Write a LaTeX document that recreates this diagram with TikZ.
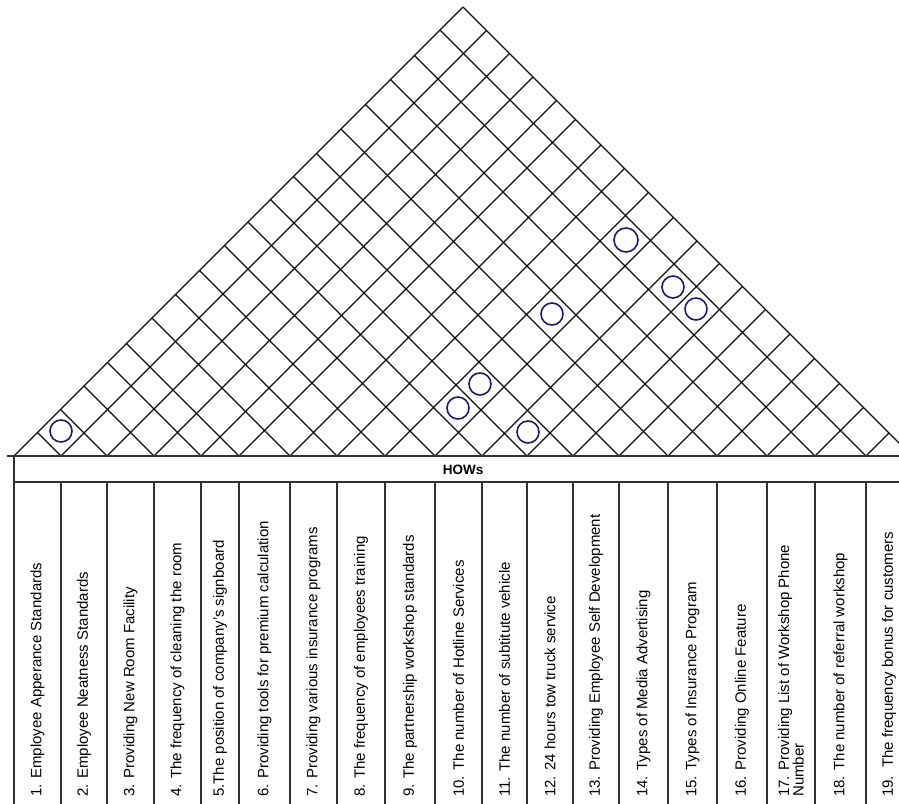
\documentclass[tikz,border=0pt]{standalone}
\usepackage{fontspec}
\setmainfont{Liberation Sans}
\definecolor{roofgray}{RGB}{15,15,15}
\definecolor{tablegray}{RGB}{50,50,50}
\definecolor{ringblue}{RGB}{28,28,112}
\tikzset{
  roofline/.style={draw=roofgray, line width=1.3pt},
  tabline/.style={draw=tablegray, line width=1.3pt},
  howtext/.style={
    rotate=90,
    anchor=west,
    inner sep=0pt,
    align=left,
    font=\fontsize{15}{14.5}\selectfont
  },
  headtext/.style={inner sep=0pt, font=\fontsize{13.5}{14}\selectfont\bfseries},
  ring/.style={circle, draw=ringblue, line width=1.6pt, minimum size=22pt, inner sep=0pt}
}

\begin{document}
\begin{tikzpicture}[x=1pt,y=-1pt]
    \clip (0,0) rectangle (899,803);
    % roof grid
    \foreach \xk in {14,61,107,154,201,239,290,337,385,435,482,527,573,619,668,717,767,815,866,912} {
      \draw[roofline] (\xk,456) -- ({(912+\xk)/2},{456-(912-\xk)/2});
      \draw[roofline] (\xk,456) -- ({(\xk+14)/2},{456-(\xk-14)/2});
    }
    \node[ring] (r1) at (61,431) {};
    \node[ring] (r2) at (528,432) {};
    \node[ring] (r3) at (458,408) {};
    \node[ring] (r4) at (480,384) {};
    \node[ring] (r5) at (552,314) {};
    \node[ring] (r6) at (696,309) {};
    \node[ring] (r7) at (673,287) {};
    \node[ring, minimum size=24pt] (r8) at (626,240) {};
    % table
    \draw[tabline] (7,456) -- (912,456);
    \draw[tabline] (14,482) -- (912,482);
    \draw[tabline] (14,456) -- (14,810);
    \foreach \xk in {61,107,154,201,239,290,337,385,435,482,527,573,619,668,717,767,815,866,912}
      \draw[tabline] (\xk,482) -- (\xk,810);
    \node[headtext] (hows) at (463,470) {HOWs};
    \node[howtext] (h1) at (37.5,797) {1. Employee Apperance Standards};
    \node[howtext] (h2) at (84,797) {2. Employee Neatness Standards};
    \node[howtext] (h3) at (130.5,797) {3. Providing New Room Facility};
    \node[howtext] (h4) at (177.5,797) {4. The frequency of cleaning the room};
    \node[howtext] (h5) at (220,797) {5.The position of company's signboard};
    \node[howtext] (h6) at (264.5,797) {6. Providing tools for premium calculation};
    \node[howtext] (h7) at (313.5,797) {7. Providing various insurance programs};
    \node[howtext] (h8) at (361,797) {8. The frequency of employees training};
    \node[howtext] (h9) at (410,797) {9. The partnership workshop standards};
    \node[howtext] (h10) at (458.5,797) {10. The number of Hotline Services};
    \node[howtext] (h11) at (504.5,797) {11. The number of subtitute vehicle};
    \node[howtext] (h12) at (550,797) {12. 24 hours tow truck service};
    \node[howtext] (h13) at (596,797) {13. Providing Employee Self Development};
    \node[howtext] (h14) at (643.5,797) {14. Types of Media Advertising};
    \node[howtext] (h15) at (692.5,797) {15. Types of Insurance Program};
    \node[howtext] (h16) at (742,797) {16. Providing Online Feature};
    \node[howtext] (h17) at (791,797) {17. Providing List of Workshop Phone\\Number};
    \node[howtext] (h18) at (840.5,797) {18. The number of referral workshop};
    \node[howtext] (h19) at (889,797) {19.\ \ The frequency bonus for customers};
  \end{tikzpicture}
\end{document}
